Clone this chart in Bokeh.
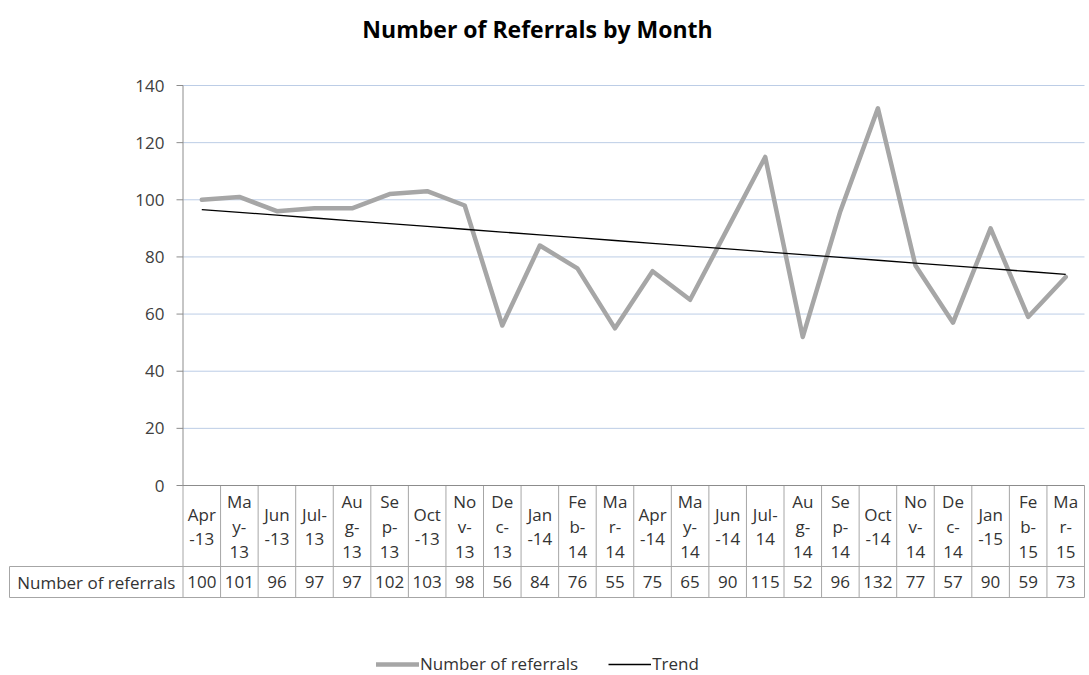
import numpy as np
from bokeh.plotting import figure
from bokeh.models import Range1d, ColumnDataSource, Legend, LegendItem, Label
from bokeh.core.properties import value
from bokeh.embed import file_html
from bokeh.resources import INLINE

# ---- data ----
months = ["Apr\n-13", "Ma\ny-\n13", "Jun\n-13", "Jul-\n13", "Au\ng-\n13", "Se\np-\n13",
          "Oct\n-13", "No\nv-\n13", "De\nc-\n13", "Jan\n-14", "Fe\nb-\n14", "Ma\nr-\n14",
          "Apr\n-14", "Ma\ny-\n14", "Jun\n-14", "Jul-\n14", "Au\ng-\n14", "Se\np-\n14",
          "Oct\n-14", "No\nv-\n14", "De\nc-\n14", "Jan\n-15", "Fe\nb-\n15", "Ma\nr-\n15"]
referrals = [100, 101, 96, 97, 97, 102, 103, 98, 56, 84, 76, 55,
             75, 65, 90, 115, 52, 96, 132, 77, 57, 90, 59, 73]
y_ticks = [0, 20, 40, 60, 80, 100, 120, 140]
series_name = "Number of referrals"
trend_name = "Trend"
title_text = "Number of Referrals by Month"

FONT = value("Open Sans")
W, H = 1089, 675

# pixel layout -> data scales
n = len(months)
xs = np.arange(n) + 0.5
X0_PX, XN_PX = 182.5, 1084.0
sx = (XN_PX - X0_PX) / n
Y0_PX, Y140_PX = 485.0, 85.0
sy = (Y0_PX - Y140_PX) / 140.0

x_start = -X0_PX / sx
x_end = n + (W - XN_PX) / sx
y_top = 140 + Y140_PX / sy
y_bot = -(H - Y0_PX) / sy

p = figure(width=W, height=H, output_backend="svg", toolbar_location=None, tools="",
           x_axis_type=None, y_axis_type=None, min_border=0,
           x_range=Range1d(x_start, x_end), y_range=Range1d(y_bot, y_top))
p.grid.visible = False
p.outline_line_color = None
p.background_fill_color = "white"
p.border_fill_color = "white"

# gridlines
grid_y = [t for t in y_ticks if t > 0]
p.segment(x0=[0] * len(grid_y), x1=[n] * len(grid_y), y0=grid_y, y1=grid_y,
          line_color="#bccde6", line_width=1)

# axis line + ticks + labels
axis_col = "#8c8c8c"
p.segment(x0=[0], x1=[0], y0=[0], y1=[140], line_color=axis_col, line_width=1)
tick_len = 6.5 / sx
p.segment(x0=[-tick_len] * len(y_ticks), x1=[0] * len(y_ticks), y0=y_ticks, y1=y_ticks,
          line_color=axis_col, line_width=1)
p.text(x=[-18.5 / sx] * len(y_ticks), y=y_ticks, text=[str(t) for t in y_ticks],
       text_font=FONT, text_font_size="17px", text_color="#404040",
       text_align="right", text_baseline="middle")

# data table
row1 = -(566 - Y0_PX) / sy
row2 = -(597 - Y0_PX) / sy
left = x_start + 9 / sx
tcol = "#a6a6a6"
vx = list(range(n + 1))
p.segment(x0=vx, x1=vx, y0=[0] * len(vx), y1=[row2] * len(vx), line_color=tcol, line_width=1)
p.segment(x0=[left], x1=[left], y0=[row1], y1=[row2], line_color=tcol, line_width=1)
p.segment(x0=[0], x1=[n], y0=[0], y1=[0], line_color=axis_col, line_width=1)
p.segment(x0=[left, left], x1=[n, n], y0=[row1, row2], y1=[row1, row2],
          line_color=tcol, line_width=1)

# header labels, one text per wrapped line
hdr_mid = -(526 - Y0_PX) / sy
line_step = 25 / sy
lx, ly, lt = [], [], []
for i, lab in enumerate(months):
    parts = lab.split("\n")
    k = len(parts)
    for j, part in enumerate(parts):
        lx.append(xs[i])
        ly.append(hdr_mid + ((k - 1) / 2 - j) * line_step)
        lt.append(part)
p.text(x=lx, y=ly, text=lt, text_font=FONT, text_font_size="17px",
       text_color="#333333", text_align="center", text_baseline="middle")

val_mid = (row1 + row2) / 2
p.text(x=xs, y=[val_mid] * n, text=[str(v) for v in referrals], text_font=FONT,
       text_font_size="17px", text_color="#333333", text_align="center",
       text_baseline="middle")
p.text(x=[(left + 0) / 2], y=[val_mid], text=[series_name], text_font=FONT,
       text_font_size="17px", text_color="#333333", text_align="center",
       text_baseline="middle")

# series + trend
src = ColumnDataSource(dict(x=xs, y=referrals))
r_line = p.line("x", "y", source=src, line_color="#a6a6a6", line_width=4.5,
                line_join="round", line_cap="round")
coef = np.polyfit(np.arange(n), np.array(referrals, dtype=float), 1)
trend = np.polyval(coef, np.arange(n))
r_trend = p.line(xs, trend, line_color="black", line_width=1.3)

legend = Legend(items=[LegendItem(label=series_name, renderers=[r_line]),
                       LegendItem(label=trend_name, renderers=[r_trend])],
                location=(376, 0), orientation="horizontal",
                border_line_color=None, background_fill_alpha=0,
                label_text_font="Open Sans", label_text_font_size="17px",
                label_text_color="#333333", glyph_width=43, label_standoff=1,
                spacing=30, padding=0, margin=0, label_height=16, glyph_height=16)
p.add_layout(legend, "center")

p.add_layout(Label(x=537, y=H - 28, x_units="screen", y_units="screen", text=title_text,
                   text_font="Open Sans", text_font_size="23px", text_font_style="bold",
                   text_color="black", text_align="center", text_baseline="middle"))

open("out.html", "w").write(file_html(p, INLINE))
